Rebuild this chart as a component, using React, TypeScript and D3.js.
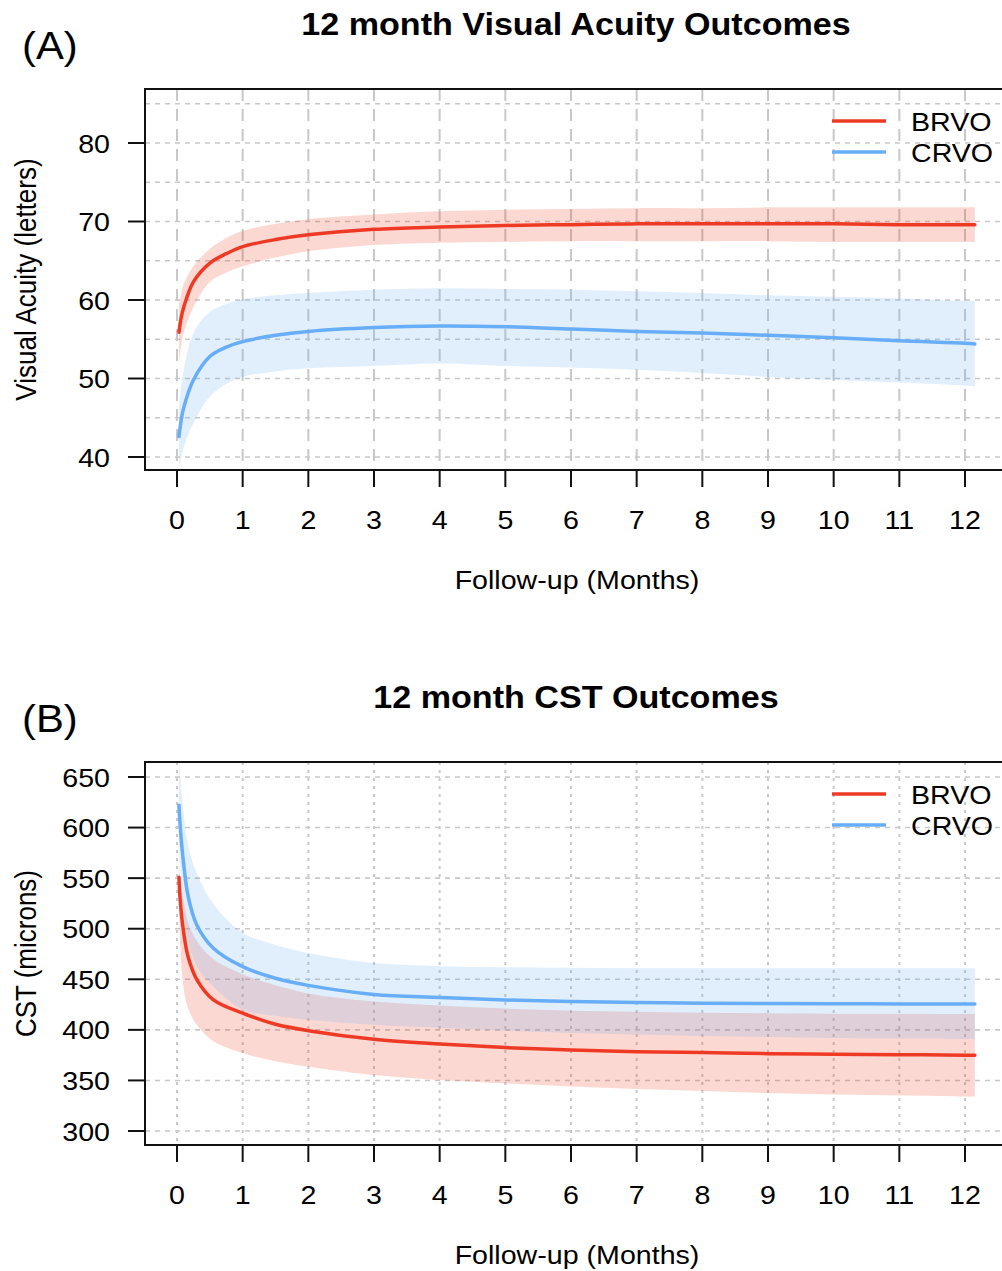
import React from 'react';
import * as d3 from 'd3';

// ---------- DATA ----------
const monthTicks = [0, 1, 2, 3, 4, 5, 6, 7, 8, 9, 10, 11, 12];

// Panel A: Visual acuity (letters)
const monthsA = [0.03, 0.06, 0.1, 0.25, 0.5, 0.75, 1, 1.5, 2, 3, 4, 5, 6, 7, 8, 9, 10, 11, 12, 12.15];
const brvoVA = [55.9, 57.6, 59.0, 62.3, 64.7, 65.9, 66.8, 67.7, 68.3, 69.0, 69.3, 69.5, 69.6, 69.7, 69.7, 69.7, 69.7, 69.6, 69.6, 69.6];
const brvoVAUpper = [59.5, 60.6, 62.0, 64.3, 66.5, 67.9, 68.8, 69.7, 70.3, 70.9, 71.3, 71.5, 71.6, 71.7, 71.7, 71.8, 71.8, 71.8, 71.8, 71.8];
const brvoVALower = [52.0, 54.0, 55.8, 59.1, 62.3, 63.5, 64.3, 65.4, 66.2, 67.0, 67.3, 67.4, 67.5, 67.5, 67.5, 67.5, 67.4, 67.4, 67.4, 67.4];
const crvoVA = [42.6, 44.5, 46.2, 49.8, 52.8, 54.0, 54.7, 55.5, 56.0, 56.5, 56.7, 56.6, 56.3, 56.0, 55.8, 55.5, 55.2, 54.8, 54.5, 54.4];
const crvoVAUpper = [46.5, 48.8, 51.0, 55.8, 58.5, 59.5, 60.1, 60.6, 60.9, 61.3, 61.5, 61.4, 61.3, 61.1, 60.9, 60.6, 60.4, 60.2, 59.9, 59.9];
const crvoVALower = [38.5, 39.8, 41.2, 44.3, 47.7, 49.3, 50.2, 50.9, 51.3, 51.6, 51.9, 51.6, 51.4, 51.1, 50.7, 50.2, 49.8, 49.5, 49.1, 49.0];
const vaTicks = [40, 50, 60, 70, 80];
const vaGrid = [40, 45, 50, 55, 60, 65, 70, 75, 80, 85];

// Panel B: CST (microns)
const monthsB = [0.03, 0.05, 0.1, 0.17, 0.3, 0.55, 1, 1.5, 2, 3, 4, 5, 6, 7, 8, 9, 10, 11, 12, 12.15];
const crvoCST = [622, 600, 565, 532, 504, 481, 462.5, 451, 444, 435, 432, 429.5, 428, 427, 426.3, 426, 425.8, 425.6, 425.5, 425.5];
const crvoCSTUpper = [665, 650, 615, 582, 555, 525, 496, 484, 476, 466, 463, 462, 461.5, 461, 461, 461, 461, 461, 461, 461];
const crvoCSTLower = [585, 560, 518, 488, 463, 443, 420, 414, 410, 405, 402, 399, 397, 395.5, 394, 393, 392, 391.5, 391, 391];
const brvoCST = [551, 527, 497, 472, 450, 430, 416.5, 405.5, 399.2, 390.7, 386, 382.5, 380.2, 378.4, 377.5, 376.5, 376, 375.5, 375, 375];
const brvoCSTUpper = [565, 550, 528, 506, 488, 470, 455, 444, 436, 428, 424, 421, 419, 418, 417, 416.5, 416, 416, 415.7, 415.7];
const brvoCSTLower = [537, 482, 442, 421, 405, 389, 377, 369, 363.6, 355.4, 350.4, 347, 344, 341.5, 339.5, 337.5, 336, 335, 334, 334];
const cstTicks = [300, 350, 400, 450, 500, 550, 600, 650];

const legendLabels = ['BRVO', 'CRVO'];

// ---------- STYLE ----------
const RED = '#EE3A24';
const BLUE = '#67ADF7';
const FONT = '"Liberation Sans", Arial, Helvetica, sans-serif';
const SX = 1.1;
const GRID = '#c8c8c8';

const xScale = d3.scaleLinear().domain([0, 12]).range([177, 965]);
const BOX_LEFT = 145;
const BOX_RIGHT = 1007;

function Txt({ x, y, size, anchor = 'middle', bold = false, rotate = false, children }: any) {
  const transform = rotate
    ? `translate(${x},${y}) rotate(-90) scale(1,${SX})`
    : `translate(${x},${y}) scale(${SX},1)`;
  return (
    <text transform={transform} fontSize={size} textAnchor={anchor}
      fontWeight={bold ? 'bold' : 'normal'} fontFamily={FONT} fill="#000">{children}</text>
  );
}

type Series = { months: number[]; mid: number[]; lo: number[]; hi: number[]; color: string };

function Panel({ id, top, bottom, yScale, yTicks, yGrid, series, title, panelLabel, yLabel,
  vDash, hDash }: any) {
  const curve = d3.curveCatmullRom.alpha(0.5);
  const line = d3.line<number>().curve(curve);
  const area = d3.area<number>().curve(curve);
  const clipId = `clip-${id}`;
  const midY = (top + bottom) / 2;
  return (
    <g>
      <defs>
        <clipPath id={clipId}>
          <rect x={BOX_LEFT} y={top} width={BOX_RIGHT - BOX_LEFT} height={bottom - top} />
        </clipPath>
      </defs>
      {/* grid */}
      {yGrid.map((v: number) => (
        <line key={'h' + v} x1={BOX_LEFT} x2={BOX_RIGHT} y1={yScale(v)} y2={yScale(v)}
          stroke={GRID} strokeWidth={1.6} strokeDasharray={hDash} />
      ))}
      {monthTicks.map((m) => (
        <line key={'v' + m} x1={xScale(m)} x2={xScale(m)} y1={top} y2={bottom}
          stroke={GRID} strokeWidth={2} strokeDasharray={vDash} />
      ))}
      {/* bands */}
      <g clipPath={`url(#${clipId})`}>
        {series.map((s: Series, i: number) => {
          const a = area
            .x((_, j) => xScale(s.months[j]))
            .y0((_, j) => yScale(s.lo[j]))
            .y1((_, j) => yScale(s.hi[j]));
          return <path key={'b' + i} d={a(s.mid) || ''} fill={s.color} fillOpacity={0.2} stroke="none" />;
        })}
        {series.map((s: Series, i: number) => {
          const l = line.x((_, j) => xScale(s.months[j])).y((d) => yScale(d));
          return <path key={'l' + i} d={l(s.mid) || ''} fill="none" stroke={s.color}
            strokeWidth={3.5} strokeLinecap="round" strokeLinejoin="round" />;
        })}
      </g>
      {/* box */}
      <rect x={BOX_LEFT} y={top} width={BOX_RIGHT - BOX_LEFT} height={bottom - top}
        fill="none" stroke="#111" strokeWidth={2} />
      {/* y axis */}
      {yTicks.map((v: number) => (
        <g key={'yt' + v}>
          <line x1={BOX_LEFT - 17} x2={BOX_LEFT} y1={yScale(v)} y2={yScale(v)} stroke="#111" strokeWidth={2} />
          <Txt x={110} y={yScale(v) + 9.5} size={26} anchor="end">{v}</Txt>
        </g>
      ))}
      {/* x axis */}
      {monthTicks.map((m) => (
        <g key={'xt' + m}>
          <line x1={xScale(m)} x2={xScale(m)} y1={bottom} y2={bottom + 17} stroke="#111" strokeWidth={2} />
          <Txt x={xScale(m)} y={bottom + 59} size={26}>{m}</Txt>
        </g>
      ))}
      <Txt x={577} y={bottom + 119} size={26}>Follow-up (Months)</Txt>
      <Txt x={36} y={midY} size={26} rotate>{yLabel}</Txt>
      {/* title */}
      <Txt x={576} y={top - 54} size={31} bold>{title}</Txt>
      <Txt x={22} y={top - 30} size={38} anchor="start">{panelLabel}</Txt>
      {/* legend */}
      {series.map((s: Series, i: number) => (
        <g key={'lg' + i}>
          <line x1={832} x2={886} y1={top + 32 + i * 31} y2={top + 32 + i * 31} stroke={s.color} strokeWidth={3.5} />
          <Txt x={911} y={top + 41.5 + i * 31} size={26} anchor="start">{legendLabels[i]}</Txt>
        </g>
      ))}
    </g>
  );
}

export default function App() {
  const yA = d3.scaleLinear().domain([40, 80]).range([457, 143]);
  const yB = d3.scaleLinear().domain([300, 650]).range([1131, 777]);
  const seriesA: Series[] = [
    { months: monthsA, mid: brvoVA, lo: brvoVALower, hi: brvoVAUpper, color: RED },
    { months: monthsA, mid: crvoVA, lo: crvoVALower, hi: crvoVAUpper, color: BLUE },
  ];
  const seriesB: Series[] = [
    { months: monthsB, mid: brvoCST, lo: brvoCSTLower, hi: brvoCSTUpper, color: RED },
    { months: monthsB, mid: crvoCST, lo: crvoCSTLower, hi: crvoCSTUpper, color: BLUE },
  ];
  return (
    <svg width={1002} height={1271} style={{ position: 'absolute', left: 0, top: 0, background: '#fff' }}>
      <rect x={0} y={0} width={1002} height={1271} fill="#fff" />
      <Panel id="a" top={89} bottom={470} yScale={yA} yTicks={vaTicks} yGrid={vaGrid}
        series={seriesA} title="12 month Visual Acuity Outcomes" panelLabel="(A)"
        yLabel="Visual Acuity (letters)" vDash="12,8" hDash="5,5" />
      <Panel id="b" top={762} bottom={1145} yScale={yB} yTicks={cstTicks} yGrid={cstTicks}
        series={seriesB} title="12 month CST Outcomes" panelLabel="(B)"
        yLabel="CST (microns)" vDash="3,5" hDash="5,5" />
    </svg>
  );
}
